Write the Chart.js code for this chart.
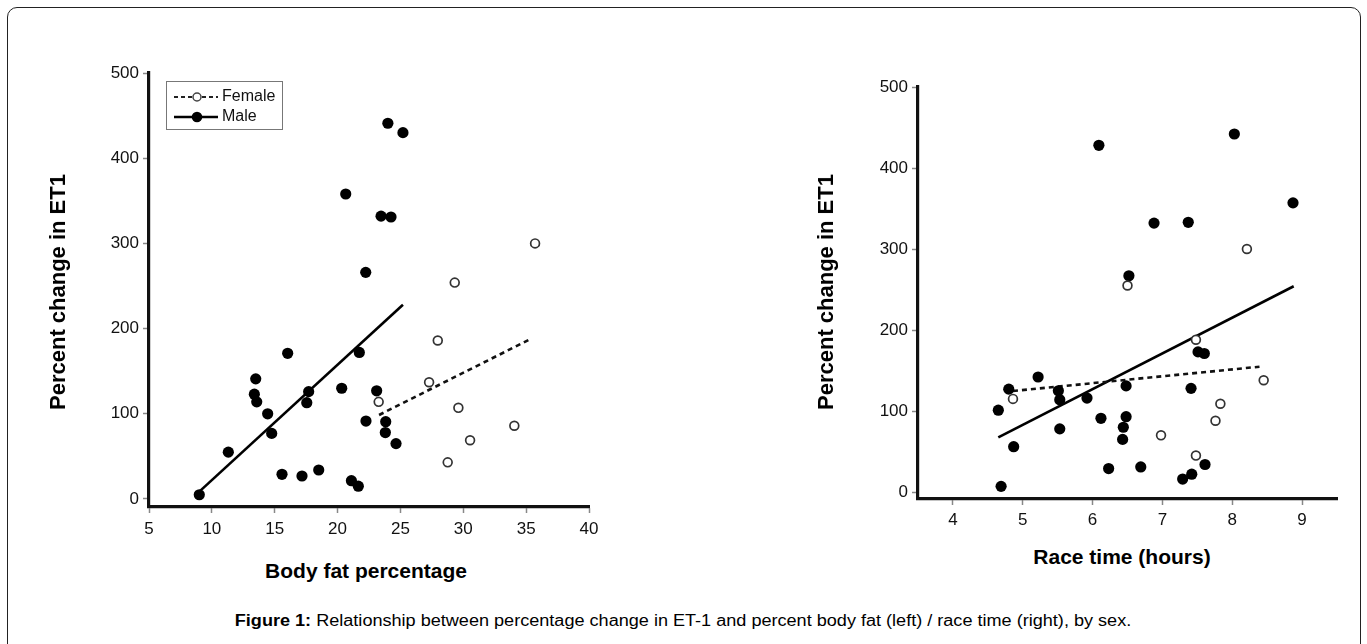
<!DOCTYPE html>
<html><head><meta charset="utf-8">
<script src="https://cdn.jsdelivr.net/npm/chart.js@4.4.1/dist/chart.umd.min.js"></script>
<style>
html,body{margin:0;padding:0;background:#fff;width:1367px;height:644px;overflow:hidden;font-family:"Liberation Sans",Arial,sans-serif;color:#000;}
#frame{position:absolute;left:7px;top:7px;width:1354px;height:680px;border:1px solid #222;border-radius:10px;box-sizing:border-box;}
canvas{position:absolute;top:0;}
.ytitle{position:absolute;font-weight:bold;font-size:22px;white-space:nowrap;transform:translate(-50%,-50%) rotate(-90deg);}
.xtitle{position:absolute;font-weight:bold;font-size:21px;white-space:nowrap;transform:translate(-50%,-50%);}
#caption{position:absolute;left:683px;top:621px;font-size:16px;white-space:nowrap;transform:translate(-50%,-50%) scaleX(1.13);}
</style>
</head><body>
<div id="frame"></div>
<canvas id="c1" width="683" height="545" style="left:0px"></canvas>
<canvas id="c2" width="684" height="545" style="left:683px"></canvas>
<div class="ytitle" style="left:58px;top:292px">Percent change in ET1</div>
<div class="ytitle" style="left:826px;top:292px">Percent change in ET1</div>
<div class="xtitle" style="left:366px;top:571px">Body fat percentage</div>
<div class="xtitle" style="left:1122px;top:557px">Race time (hours)</div>
<div id="caption"><b>Figure 1:</b> Relationship between percentage change in ET-1 and percent body fat (left) / race time (right), by sex.</div>
<script>
// ---- Data: left panel (body fat %) ----
const fatMaleX = [22.24,16.03,21.73,13.49,13.38,13.57,14.44,14.76,17.7,17.55,20.33,23.11,22.26,23.83,23.8,24.65,11.31,15.58,17.17,18.5,21.1,21.65,9.0,20.65,23.46,24.25,24.0,25.2];
const fatMaleY = [266,171,172,141,123,114,100,77,126,113,130,127,91.5,90.7,78,65,55,29,27,34,21.5,15,5,358,332,331,441,430];
const fatFemaleX = [35.71,29.32,27.97,27.28,29.61,34.06,30.54,28.76,23.27];
const fatFemaleY = [300,254,186,137,107,86,69,43,114];
const fatMaleFitX = [9.0,25.2];
const fatMaleFitY = [8.6,228];
const fatFemaleFitX = [23.3,35.3];
const fatFemaleFitY = [98.6,187.4];
const fatXTicks = [5,10,15,20,25,30,35,40];
// ---- Data: right panel (race time, hours) ----
const timeMaleX = [6.52,5.22,4.80,5.51,5.53,4.65,5.92,6.48,6.12,6.48,6.44,6.43,5.53,4.87,6.23,4.69,6.69,8.87,6.88,7.37,7.51,7.60,7.41,7.61,7.42,7.29,6.09,8.03];
const timeMaleY = [267,142,127,125,114,101,116,131,91,93,80,65,78,56,29,7,31,357,332,333,173,171,128,34,22,16,428,442];
const timeFemaleX = [6.50,4.86,8.21,7.48,8.45,7.83,7.76,6.98,7.48];
const timeFemaleY = [255,115,300,188,138,109,88,70,45];
const timeMaleFitX = [4.65,8.88];
const timeMaleFitY = [67.5,254];
const timeFemaleFitX = [4.86,8.39];
const timeFemaleFitY = [124.7,154.7];
const timeXTicks = [4,5,6,7,8,9];
const yTicks = [0,100,200,300,400,500];

const pts = (xs, ys) => xs.map((x,i)=>({x:x, y:ys[i]}));

function makeDatasets(mX,mY,fX,fY,mfX,mfY,ffX,ffY){
  return [
    {label:'MaleFit', data:pts(mfX,mfY), showLine:true, pointRadius:0, borderColor:'#000', borderWidth:2.6, order:3},
    {label:'FemaleFit', data:pts(ffX,ffY), showLine:true, pointRadius:0, borderColor:'#111', borderWidth:2.6, borderDash:[5,4], order:2},
    {label:'Male', data:pts(mX,mY), pointRadius:5.6, pointBackgroundColor:'#000', pointBorderColor:'#000', pointBorderWidth:0, order:1},
    {label:'Female', data:pts(fX,fY), pointRadius:4.4, pointBackgroundColor:'#fff', pointBorderColor:'#333', pointBorderWidth:1.7, order:0}
  ];
}

const tickFont = {family:'"Liberation Sans", Arial, sans-serif', size:17};

function makeOptions(xmin,xmax,xticks,ymin,pad,xPad,yW,xH){
  return {
    responsive:false, animation:false, devicePixelRatio:1,
    layout:{padding:pad},
    plugins:{legend:{display:false}, tooltip:{enabled:false}},
    scales:{
      x:{type:'linear', min:xmin, max:xmax,
         afterBuildTicks:(s)=>{ s.ticks = xticks.map(v=>({value:v})); },
         afterFit:(s)=>{ s.height = xH; },
         ticks:{font:tickFont, color:'#111', padding:xPad, maxRotation:0, autoSkip:false},
         grid:{display:true, drawOnChartArea:false, drawTicks:true, tickLength:6, tickColor:'#888', tickWidth:1.5},
         border:{display:true, width:3.2, color:'#111'}},
      y:{type:'linear', min:ymin, max:500,
         afterBuildTicks:(s)=>{ s.ticks = yTicks.map(v=>({value:v})); },
         afterFit:(s)=>{ s.width = yW; },
         ticks:{font:tickFont, color:'#111', padding:4, autoSkip:false},
         grid:{display:true, drawOnChartArea:false, drawTicks:true, tickLength:6, tickColor:'#888', tickWidth:1.5},
         border:{display:true, width:3.2, color:'#111'}}
    }
  };
}

const legendPlugin = {
  id:'boxLegend',
  afterDraw(chart){
    const ctx = chart.ctx;
    ctx.save();
    ctx.strokeStyle = '#777'; ctx.lineWidth = 1;
    ctx.strokeRect(166.5,81.5,116,48);
    // Female row
    ctx.strokeStyle = '#222'; ctx.lineWidth = 2.2; ctx.setLineDash([4,3]);
    ctx.beginPath(); ctx.moveTo(174,97); ctx.lineTo(218,97); ctx.stroke();
    ctx.setLineDash([]);
    ctx.fillStyle = '#fff'; ctx.strokeStyle = '#444'; ctx.lineWidth = 1.5;
    ctx.beginPath(); ctx.arc(197,97,4,0,Math.PI*2); ctx.fill(); ctx.stroke();
    // Male row
    ctx.strokeStyle = '#000'; ctx.lineWidth = 2.6;
    ctx.beginPath(); ctx.moveTo(174,117); ctx.lineTo(218,117); ctx.stroke();
    ctx.fillStyle = '#000';
    ctx.beginPath(); ctx.arc(197,117,5.3,0,Math.PI*2); ctx.fill();
    ctx.font = '16px "Liberation Sans", Arial, sans-serif';
    ctx.textBaseline = 'middle'; ctx.fillStyle = '#111';
    ctx.fillText('Female',222,97);
    ctx.fillText('Male',222,117);
    ctx.restore();
  }
};

new Chart(document.getElementById('c1'), {
  type:'scatter',
  data:{datasets:makeDatasets(fatMaleX,fatMaleY,fatFemaleX,fatFemaleY,fatMaleFitX,fatMaleFitY,fatFemaleFitX,fatFemaleFitY)},
  options:makeOptions(5,40,fatXTicks,-9.4,{left:89,right:94,top:73,bottom:8},6,60,30),
  plugins:[legendPlugin]
});

new Chart(document.getElementById('c2'), {
  type:'scatter',
  data:{datasets:makeDatasets(timeMaleX,timeMaleY,timeFemaleX,timeFemaleY,timeMaleFitX,timeMaleFitY,timeFemaleFitX,timeFemaleFitY)},
  options:makeOptions(3.5,9.5,timeXTicks,-8.6,{left:175,right:30,top:87,bottom:16},5,60,30)
});
</script>
</body></html>
